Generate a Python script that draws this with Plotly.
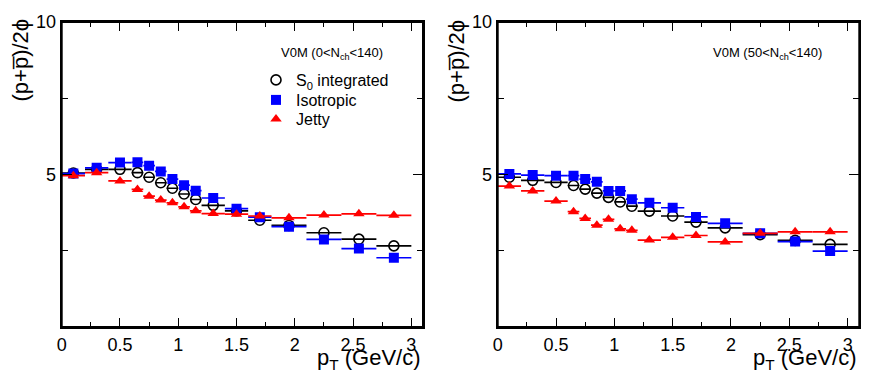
import plotly.graph_objects as go

# pT bins (centres and half widths)
pt = [0.1, 0.3, 0.5, 0.65, 0.75, 0.85, 0.95, 1.05, 1.15, 1.3, 1.5, 1.7, 1.95, 2.25, 2.55, 2.85]
pt_err = [0.1, 0.1, 0.1, 0.05, 0.05, 0.05, 0.05, 0.05, 0.05, 0.1, 0.1, 0.1, 0.15, 0.15, 0.15, 0.15]

# V0M (0<Nch<140)
s0_all = [5.05, 5.17, 5.17, 5.06, 4.91, 4.73, 4.55, 4.36, 4.18, 3.99, 3.81, 3.50, 3.33, 3.09, 2.88, 2.66]
iso_all = [5.03, 5.22, 5.39, 5.40, 5.29, 5.10, 4.85, 4.65, 4.47, 4.23, 3.88, 3.60, 3.29, 2.87, 2.57, 2.27]
jetty_all = [4.96, 5.06, 4.79, 4.51, 4.29, 4.16, 4.07, 3.94, 3.81, 3.72, 3.70, 3.64, 3.58, 3.67, 3.71, 3.66]

# V0M (50<Nch<140)
s0_high = [4.91, 4.81, 4.74, 4.64, 4.52, 4.39, 4.25, 4.10, 3.96, 3.80, 3.64, 3.44, 3.25, 3.03, 2.84, 2.71]
iso_high = [5.02, 4.98, 4.96, 4.96, 4.85, 4.76, 4.46, 4.46, 4.19, 4.07, 3.91, 3.61, 3.40, 3.07, 2.80, 2.49]
jetty_high = [4.62, 4.46, 4.13, 3.78, 3.56, 3.34, 3.53, 3.22, 3.17, 2.85, 2.94, 3.00, 2.79, 3.07, 3.12, 3.12]

FONT = "Liberation Sans, Arial, sans-serif"
W, H = 856, 366   # page body has an 8px margin


def px(x):
    return (x - 8) / W


def py(y):
    return 1 - (y - 8) / H


styles = [
    ("S<sub>0</sub> integrated", "black", dict(symbol="circle-open", size=10, color="black", line=dict(width=1.6))),
    ("Isotropic", "#0000ff", dict(symbol="square", size=10, color="#0000ff")),
    ("Jetty", "#ff0000", dict(symbol="triangle-up", size=10, color="#ff0000")),
]
legends = ["legend", "legend2", "legend3"]

fig = go.Figure()
panels = [("x", "y", [s0_all, iso_all, jetty_all], True),
          ("x2", "y2", [s0_high, iso_high, jetty_high], False)]
for xa, ya, series, show in panels:
    for (name, col, mk), vals, lg in zip(styles, series, legends):
        fig.add_trace(go.Scatter(
            x=pt, y=vals, mode="markers", name=name, showlegend=show, legend=lg,
            marker=mk, xaxis=xa, yaxis=ya,
            error_x=dict(type="data", array=pt_err, color=col, thickness=1.7, width=0),
        ))
    # ROOT-style closed frame
    fig.add_shape(type="rect", xref=xa + " domain", yref=ya + " domain",
                  x0=0, x1=1, y0=0, y1=1, line=dict(color="black", width=2))

xax = dict(range=[0, 3.1], dtick=0.5, tick0=0, ticks="inside", ticklen=9, tickwidth=1.2,
           tickcolor="black",
           minor=dict(dtick=0.25, ticks="inside", ticklen=5, tickwidth=1.2, tickcolor="black"),
           showline=True, linewidth=2, linecolor="black", mirror="allticks",
           showgrid=False, zeroline=False, automargin=False,
           tickfont=dict(family=FONT, size=18, color="black"))
yax = dict(range=[0, 10], tickvals=[5, 10], ticks="inside", ticklen=10, tickwidth=1.2,
           tickcolor="black",
           minor=dict(tickvals=[0, 2.5, 7.5], ticks="inside", ticklen=6, tickwidth=1.2, tickcolor="black"),
           showline=True, linewidth=2, linecolor="black", mirror="allticks",
           showgrid=False, zeroline=False, automargin=False, domain=[py(327), py(22)],
           tickfont=dict(family=FONT, size=18, color="black"))

leg = dict(xanchor="left", yanchor="middle", bgcolor="rgba(0,0,0,0)", borderwidth=0,
           font=dict(family=FONT, size=16, color="black"))

fig.update_layout(
    template="none",
    width=W, height=H,
    margin=dict(l=0, r=0, t=0, b=0),
    plot_bgcolor="white", paper_bgcolor="white",
    xaxis=dict(xax, domain=[px(61.7), px(423)], anchor="y"),
    yaxis=dict(yax, anchor="x"),
    xaxis2=dict(xax, domain=[px(497.7), px(859.3)], anchor="y2"),
    yaxis2=dict(yax, anchor="x2"),
    legend=dict(leg, x=px(256), y=py(80)),
    legend2=dict(leg, x=px(256), y=py(100)),
    legend3=dict(leg, x=px(256), y=py(119)),
)

labels = [("V0M (0<N<sub>ch</sub><140)", 279), ("V0M (50<N<sub>ch</sub><140)", 711)]
for txt, xp in labels:
    fig.add_annotation(text=txt, x=px(xp), y=py(53), xref="paper", yref="paper",
                       xanchor="left", yanchor="middle", showarrow=False,
                       font=dict(family=FONT, size=13, color="black"))

for x_right, x_mid in [(423, 20), (859.3, 456)]:
    fig.add_annotation(text="p<sub>T</sub> (GeV/c)", x=px(x_right), y=py(359),
                       xref="paper", yref="paper", xanchor="right", yanchor="middle",
                       showarrow=False, font=dict(family=FONT, size=22, color="black"))
    fig.add_annotation(text="(p+p̅)/2ϕ", x=px(x_mid), y=py(17), textangle=-90,
                       xref="paper", yref="paper", xanchor="center", yanchor="top",
                       showarrow=False, font=dict(family=FONT, size=22, color="black"))

fig.write_html("out.html")
